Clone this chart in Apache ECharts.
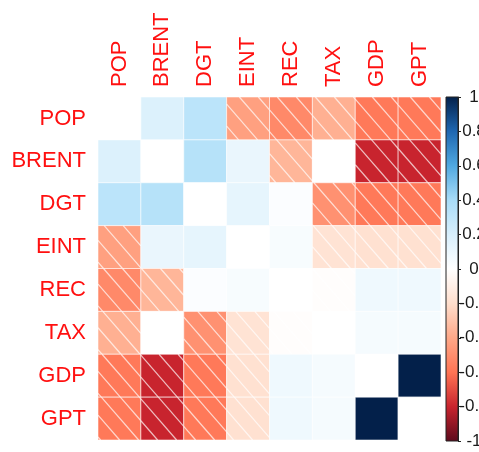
<!DOCTYPE html>
<html>
<head>
<meta charset="utf-8">
<script src="https://cdn.jsdelivr.net/npm/echarts@6/dist/echarts.min.js"></script>
<style>
html,body{margin:0;padding:0;background:#fff;}
#chart{width:479px;height:452px;}
</style>
</head>
<body>
<div id="chart"></div>
<script>
// Variables (rows top->bottom, columns left->right)
const variables = ['POP', 'BRENT', 'DGT', 'EINT', 'REC', 'TAX', 'GDP', 'GPT'];

// Correlation matrix, one row per variable
const rowPOP   = [0,     0.18,  0.32, -0.43, -0.52, -0.37, -0.58, -0.58];
const rowBRENT = [0.18,  0,     0.34,  0.11, -0.35,  0.00, -0.80, -0.80];
const rowDGT   = [0.32,  0.34,  0,     0.13,  0.02, -0.49, -0.58, -0.58];
const rowEINT  = [-0.43, 0.11,  0.13,  0,     0.04, -0.17, -0.18, -0.18];
const rowREC   = [-0.52, -0.35, 0.02,  0.04,  0,    -0.01,  0.08,  0.08];
const rowTAX   = [-0.37, 0.00, -0.49, -0.17, -0.01,  0,     0.05,  0.05];
const rowGDP   = [-0.58, -0.80, -0.58, -0.18, 0.08,  0.05,  0,     1];
const rowGPT   = [-0.58, -0.80, -0.58, -0.18, 0.08,  0.05,  1,     0];

// Colour bar tick values
const legendTicks = [-1, -0.8, -0.6, -0.4, -0.2, 0, 0.2, 0.4, 0.6, 0.8, 1];

const rows = [rowPOP, rowBRENT, rowDGT, rowEINT, rowREC, rowTAX, rowGDP, rowGPT];
const cells = [];
rows.forEach((r, yi) => r.forEach((v, xi) => cells.push([xi, yi, v])));

const palette = ['#5c0a1c', '#c8242e', '#ff7454', '#ffa888', '#ffdecc', '#ffffff',
                 '#d8effc', '#a8dcf8', '#4fa8e0', '#1e66b0', '#03204a'];

function hatchLines(x0, y0, w, h) {
  const m = 1.15, s = 19, phase = 98;
  const out = [];
  const aMin = x0 - (y0 + h) / m - s, aMax = x0 + w - y0 / m + s;
  const kMin = Math.floor((aMin - phase) / s), kMax = Math.ceil((aMax - phase) / s);
  for (let k = kMin; k <= kMax; k++) {
    const a = phase + k * s; // x = a + y/m
    let ya = Math.max(y0, m * (x0 - a));
    let yb = Math.min(y0 + h, m * (x0 + w - a));
    if (yb - ya > 0.5) {
      out.push({
        type: 'line',
        shape: { x1: a + ya / m, y1: ya, x2: a + yb / m, y2: yb },
        style: { stroke: 'rgba(255,255,255,0.7)', lineWidth: 1.2 },
        silent: true
      });
    }
  }
  return out;
}

const chart = echarts.init(document.getElementById('chart'), null, { renderer: 'canvas' });
const labelFont = 'Liberation Sans, Arial, Helvetica, sans-serif';

chart.setOption({
  animation: false,
  backgroundColor: '#ffffff',
  grid: [
    { left: 98, top: 97, width: 343, height: 343, outerBoundsMode: 'none', containLabel: false },
    { left: 446, top: 97, width: 12, height: 344, outerBoundsMode: 'none', containLabel: false }
  ],
  xAxis: [
    {
      gridIndex: 0, type: 'category', data: variables, position: 'top',
      axisLine: { show: false }, axisTick: { show: false }, splitLine: { show: false },
      axisLabel: { rotate: -90, color: '#ff1010', fontSize: 22, fontFamily: labelFont, margin: 10, interval: 0 }
    },
    { gridIndex: 1, type: 'category', data: ['bar'], show: false }
  ],
  yAxis: [
    {
      gridIndex: 0, type: 'category', data: variables, inverse: true,
      axisLine: { show: false }, axisTick: { show: false }, splitLine: { show: false },
      axisLabel: { color: '#ff1010', fontSize: 22, fontFamily: labelFont, margin: 12, interval: 0, padding: [2, 0, 0, 0] }
    },
    {
      gridIndex: 1, type: 'value', position: 'right', min: -1, max: 1, interval: 0.2,
      axisLine: { show: true, lineStyle: { color: '#222', width: 1 } },
      axisTick: { show: true, length: 3, lineStyle: { color: '#222' } },
      splitLine: { show: false },
      axisLabel: {
        color: '#1a1a1a', fontSize: 17, fontFamily: labelFont, align: 'center', margin: 16,
        showMinLabel: true, showMaxLabel: true, hideOverlap: false,
        formatter: v => String(+(+v).toFixed(1))
      }
    }
  ],
  visualMap: {
    type: 'continuous', show: false, min: -1, max: 1, dimension: 2, seriesIndex: 0,
    inRange: { color: palette }
  },
  series: [
    {
      type: 'custom', xAxisIndex: 0, yAxisIndex: 0, data: cells,
      renderItem: function (params, api) {
        const v = api.value(2);
        const c = api.coord([api.value(0), api.value(1)]);
        const sz = api.size([1, 1]);
        const x0 = c[0] - sz[0] / 2, y0 = c[1] - sz[1] / 2;
        const children = [{
          type: 'rect',
          shape: { x: x0, y: y0, width: sz[0], height: sz[1] },
          style: { fill: api.visual('color'), stroke: 'rgba(255,255,255,0.55)', lineWidth: 1 }
        }];
        if (v < 0) children.push(...hatchLines(x0, y0, sz[0], sz[1]));
        return { type: 'group', children: children };
      }
    },
    {
      type: 'custom', xAxisIndex: 1, yAxisIndex: 1, data: [[0, legendTicks[0], legendTicks[legendTicks.length - 1]]],
      renderItem: function (params, api) {
        const top = api.coord([0, api.value(2)]);
        const bot = api.coord([0, api.value(1)]);
        const w = api.size([1, 0])[0];
        const stops = palette.slice().reverse().map((col, i) => ({ offset: i / (palette.length - 1), color: col }));
        return {
          type: 'rect',
          shape: { x: top[0] - w / 2, y: top[1], width: w, height: bot[1] - top[1] },
          style: { fill: new echarts.graphic.LinearGradient(0, 0, 0, 1, stops), stroke: '#222', lineWidth: 1 }
        };
      }
    }
  ]
});
</script>
</body>
</html>
